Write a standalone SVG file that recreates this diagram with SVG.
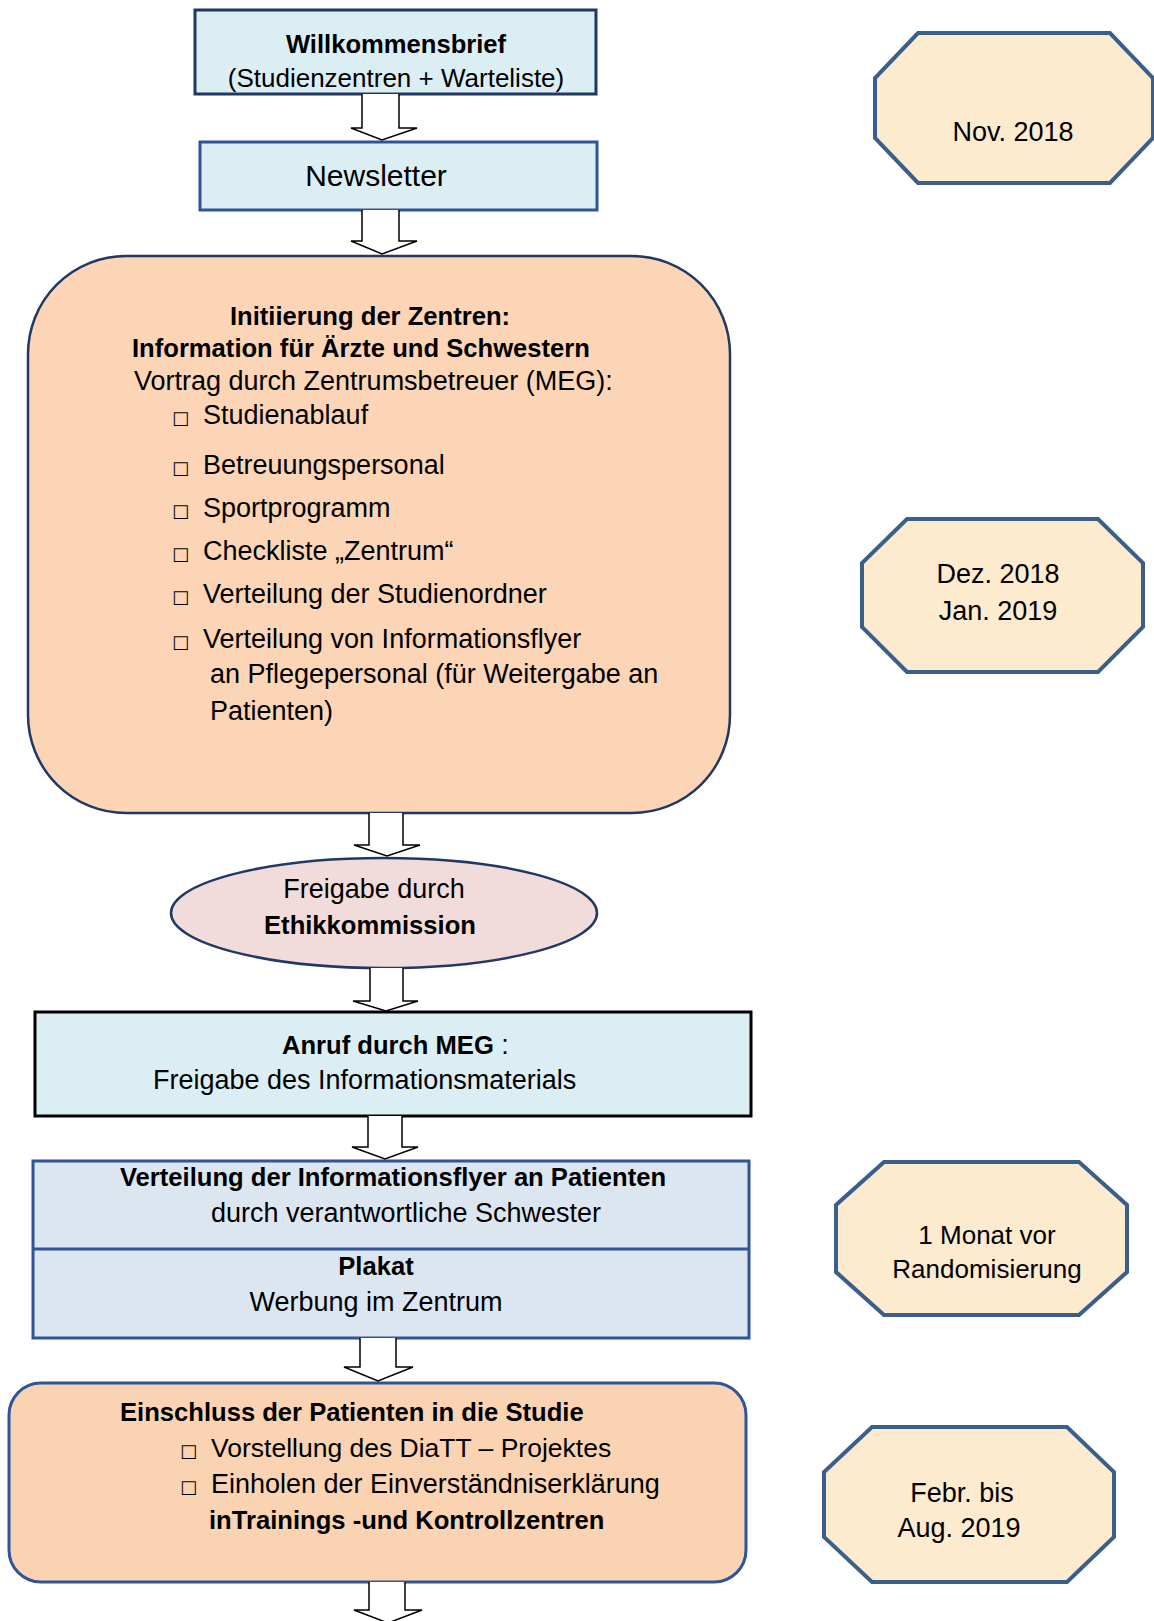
<svg xmlns="http://www.w3.org/2000/svg" width="1154" height="1621" viewBox="0 0 1154 1621">
<style>
text{font-family:"Liberation Sans",Arial,sans-serif;font-size:27px;fill:#000}
.b{font-weight:bold;font-size:25.6px}
.m{text-anchor:middle}
.sq{font-family:"DejaVu Sans",sans-serif;font-size:18px}
.lb{fill:#DBEEF4}
.oct{fill:#FCEBCF;stroke:#3A5F8B;stroke-width:4;stroke-linejoin:miter}
.arr{fill:#fff;stroke:#000;stroke-width:1.5;stroke-linejoin:miter}
</style>
<rect width="1154" height="1621" fill="#fff"/>

<g id="willkommensbrief">
<rect x="195" y="10" width="401" height="84" class="lb" stroke="#1F3864" stroke-width="3"/>
<text x="396" y="53" class="b m">Willkommensbrief</text>
<text x="396" y="87" class="m" style="font-size:26px">(Studienzentren + Warteliste)</text>
</g>

<g id="newsletter">
<rect x="200" y="142" width="397" height="68" class="lb" stroke="#2F5597" stroke-width="3"/>
<text x="376" y="186" class="m" style="font-size:30px">Newsletter</text>
</g>

<g id="initiierung">
<rect x="28" y="256" width="702" height="557" rx="98" ry="98" fill="#FBD5B5" stroke="#203864" stroke-width="2.5"/>
<text x="370" y="325" class="b m">Initiierung der Zentren:</text>
<text x="132" y="357" class="b">Information für Ärzte und Schwestern</text>
<text x="134" y="390">Vortrag durch Zentrumsbetreuer (MEG):</text>
<text x="172" y="424" class="sq">□</text><text x="203" y="424">Studienablauf</text>
<text x="172" y="474" class="sq">□</text><text x="203" y="474">Betreuungspersonal</text>
<text x="172" y="517" class="sq">□</text><text x="203" y="517">Sportprogramm</text>
<text x="172" y="560" class="sq">□</text><text x="203" y="560">Checkliste „Zentrum“</text>
<text x="172" y="603" class="sq">□</text><text x="203" y="603">Verteilung der Studienordner</text>
<text x="172" y="648" class="sq">□</text><text x="203" y="648">Verteilung von Informationsflyer</text>
<text x="210" y="683">an Pflegepersonal (für Weitergabe an</text>
<text x="210" y="720">Patienten)</text>
</g>

<g id="ethikkommission">
<ellipse cx="384" cy="913" rx="213" ry="55" fill="#F2DCDB" stroke="#203864" stroke-width="2.5"/>
<text x="374" y="898" class="m">Freigabe durch</text>
<text x="370" y="934" class="b m">Ethikkommission</text>
</g>

<g id="anruf">
<rect x="35" y="1012" width="716" height="104" class="lb" stroke="#000" stroke-width="3"/>
<text x="282" y="1054"><tspan class="b">Anruf durch MEG</tspan> :</text>
<text x="153" y="1089">Freigabe des Informationsmaterials</text>
</g>

<g id="verteilung">
<rect x="33" y="1161" width="716" height="177" fill="#DCE6F1" stroke="#2F5597" stroke-width="3"/>
<line x1="33" y1="1249" x2="749" y2="1249" stroke="#2F5597" stroke-width="3"/>
<text x="393" y="1186" class="b m">Verteilung der Informationsflyer an Patienten</text>
<text x="406" y="1222" class="m">durch verantwortliche Schwester</text>
<text x="376" y="1275" class="b m">Plakat</text>
<text x="376" y="1311" class="m">Werbung im Zentrum</text>
</g>

<g id="einschluss">
<rect x="9" y="1383" width="737" height="199" rx="32" ry="32" fill="#FAD3B2" stroke="#2F5597" stroke-width="3"/>
<text x="120" y="1421" class="b">Einschluss der Patienten in die Studie</text>
<text x="180" y="1457" class="sq">□</text><text x="211" y="1457" style="font-size:26.5px">Vorstellung des DiaTT – Projektes</text>
<text x="180" y="1493" class="sq">□</text><text x="211" y="1493">Einholen der Einverständniserklärung</text>
<text x="209" y="1529" class="b">inTrainings -und Kontrollzentren</text>
</g>

<g id="t-nov2018">
<polygon points="918,33 1110,33 1153,78 1153,138 1110,183 918,183 875,138 875,78" class="oct"/>
<text x="1013" y="141" class="m">Nov. 2018</text>
</g>

<g id="t-dez2018">
<polygon points="907,519 1098,519 1143,563 1143,627 1098,672 907,672 862,627 862,563" class="oct"/>
<text x="998" y="583" class="m">Dez. 2018</text>
<text x="998" y="620" class="m">Jan. 2019</text>
</g>

<g id="t-monat">
<polygon points="884,1162 1079,1162 1127,1205 1127,1272 1079,1315 884,1315 836,1272 836,1205" class="oct"/>
<text x="987" y="1244" class="m" style="font-size:26px">1 Monat vor</text>
<text x="987" y="1278" class="m" style="font-size:26px">Randomisierung</text>
</g>

<g id="t-febr">
<polygon points="872,1427 1067,1427 1114,1472 1114,1537 1067,1582 872,1582 824,1537 824,1472" class="oct"/>
<text x="962" y="1502" class="m">Febr. bis</text>
<text x="959" y="1537" class="m">Aug. 2019</text>
</g>

<g id="connectors">
<path class="arr" d="M362,94 V128 H351 L382,140 L417,128 H399 V94"/>
<path class="arr" d="M362,210 V241 H351 L382,254 L417,241 H399 V210"/>
<path class="arr" d="M369,813 V845 H354 L387,856 L420,845 H403 V813"/>
<path class="arr" d="M370,968 V1001 H353 L386,1011 L418,1001 H403 V968"/>
<path class="arr" d="M368,1116 V1147 H352 L385,1159 L418,1147 H402 V1116"/>
<path class="arr" d="M360,1338 V1367 H344 L378,1381 L413,1367 H396 V1338"/>
<path class="arr" d="M369,1582 V1610 H354 L388,1623 L422,1610 H405 V1582"/>
</g>
</svg>
